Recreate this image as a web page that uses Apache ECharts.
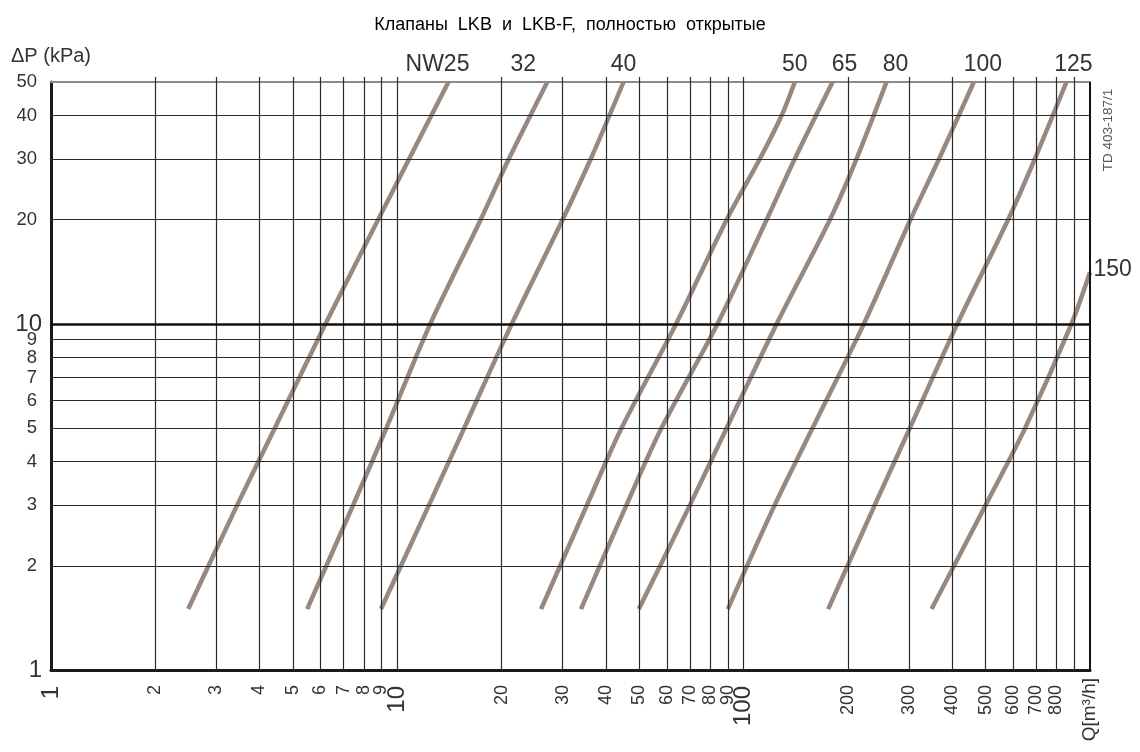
<!DOCTYPE html>
<html><head><meta charset="utf-8">
<script src="https://cdn.jsdelivr.net/npm/echarts@6/dist/echarts.min.js"></script>
<style>html,body{margin:0;padding:0;background:#fff}#c{width:1140px;height:752px}</style>
</head><body><div id="c"></div>
<script>
// ---- data (Q [m3/h], dP [kPa]) ----
const seriesNames = ['NW25','32','40','50','65','80','100','125','150'];
const nw25  = [[2.49,1.5],[3.45,3],[4.43,5],[6.2,10],[8.8,20],[14.05,50]];
const nw32  = [[5.49,1.5],[7.46,3],[9.3,5],[12.45,10],[17.4,20],[21.0,30],[27.1,50]];
const nw40  = [[8.97,1.5],[12.35,3],[15.6,5],[21.4,10],[30,20],[36.2,30],[45.0,50]];
const nw50  = [[26.0,1.5],[35.3,3],[44.4,5],[63.8,10],[89.3,20],[111.4,30],[128.7,40],[140.5,50]];
const nw65  = [[33.9,1.5],[45.9,3],[57.9,5],[84,10],[116.5,20],[140.5,30],[180.6,50]];
const nw80  = [[49.8,1.5],[70,3],[89.3,5],[124.5,10],[177.4,20],[211.8,30],[258.5,50]];
const nw100 = [[90,1.5],[123,3],[158.1,5],[222.3,10],[303,20],[366.7,30],[462,50]];
const nw125 = [[175.4,1.5],[239.2,3],[301.9,5],[414,10],[580,20],[693,30],[855,50]];
const nw150 = [[348.7,1.5],[500,3],[649.7,5],[884,10],[1000,14.1]];
const seriesValues = [nw25,nw32,nw40,nw50,nw65,nw80,nw100,nw125,nw150];

const xLabelValues = [1,2,3,4,5,6,7,8,9,10,20,30,40,50,60,70,80,90,100,200,300,400,500,600,700,800,1000];
const xBigLabels = [1,10,100];
const xGridValues = [2,3,4,5,6,7,8,9,10,20,30,40,50,60,70,80,90,100,200,300,400,500,600,700,800,900];
const yLabelValues = [1,2,3,4,5,6,7,8,9,10,20,30,40,50];
const yBigLabels = [1,10];
const yGridValues = [2,3,4,5,6,7,8,9,20,30,40];
const yMajorGrid = 10;
const titleText = 'Клапаны  LKB  и  LKB-F,  полностью  открытые';
const yName = 'ΔP (kPa)';
const xName = 'Q[m³/h]';
const docCode = 'TD 403-187/1';

// ---- styling ----
const FONT = 'Liberation Sans';
const curveColor = '#978980';
const gridColor = '#2b2b2b';
const labelOffsets = [[-11,0],[-24,0],[0,0],[0,0],[12,0],[9,0],[9,0],[7,0]];

const chart = echarts.init(document.getElementById('c'));

const curveSeries = seriesValues.map((vals, si) => {
  const last = vals.length - 1;
  const isLastSeries = si === seriesValues.length - 1;
  const lbl = isLastSeries ? {
    show: true, position: 'right', distance: 3, offset: [0, -3],
    formatter: seriesNames[si], fontFamily: FONT, fontSize: 23, color: '#333'
  } : {
    show: true, position: 'top', distance: 5, offset: labelOffsets[si],
    formatter: seriesNames[si], fontFamily: FONT, fontSize: 23, color: '#333'
  };
  return {
    name: seriesNames[si],
    type: 'line',
    xAxisIndex: 0, yAxisIndex: 0,
    smooth: 0.3,
    symbol: 'none',
    showSymbol: true,
    clip: false,
    silent: true,
    lineStyle: {color: curveColor, width: 4.5, cap: 'butt'},
    itemStyle: {color: curveColor},
    data: vals.map((p, i) => i === last ? {
      value: p, symbol: 'circle', symbolSize: 1, label: lbl
    } : p)
  };
});

const gridSeries = {
  type: 'line', data: [], silent: true,
  markLine: {
    silent: true, symbol: 'none', animation: false,
    label: {show: false},
    lineStyle: {color: gridColor, width: 1.2, type: 'solid'},
    data: [
      ...xGridValues.map(v => ({xAxis: v})),
      ...yGridValues.map(v => ({yAxis: v})),
      {yAxis: yMajorGrid, lineStyle: {color: '#111', width: 2.6, type: 'solid'}},
      {xAxis: 1000, lineStyle: {color: '#111', width: 2, type: 'solid'}}
    ]
  }
};

chart.setOption({
  animation: false,
  backgroundColor: '#fff',
  title: {
    text: titleText, left: 'center', top: 11,
    textStyle: {fontFamily: FONT, fontSize: 18, fontWeight: 'normal', color: '#000'}
  },
  grid: {left: 51, right: 50, top: 82, bottom: 82},
  xAxis: [{
    type: 'log', logBase: 10, min: 1, max: 1000, position: 'bottom',
    axisLine: {show: true, lineStyle: {color: '#1a1a1a', width: 3}},
    axisTick: {show: false},
    splitLine: {show: false},
    axisLabel: {
      customValues: xLabelValues,
      rotate: 90, margin: 8,
      fontFamily: FONT, color: '#333', fontSize: 18,
      formatter: v => {
        if (v >= 999) return '{q|' + xName + '}';
        if (xBigLabels.indexOf(v) >= 0) return '{b|' + v + '}';
        return '{n|' + v + '}';
      },
      rich: {
        n: {fontFamily: FONT, fontSize: 18, color: '#333', padding: [0, 7, 0, 0]},
        b: {fontFamily: FONT, fontSize: 24, color: '#333', padding: [0, 8, 0, 0]},
        q: {fontFamily: FONT, fontSize: 19, color: '#333'}
      }
    }
  }, {
    type: 'log', logBase: 10, min: 1, max: 1000, position: 'top',
    axisLine: {show: true, lineStyle: {color: '#8a8a8a', width: 2}},
    axisTick: {show: true, customValues: xGridValues, length: 5, lineStyle: {color: gridColor, width: 1.2}},
    axisLabel: {show: false},
    splitLine: {show: false}
  }],
  yAxis: [{
    type: 'log', logBase: 10, min: 1, max: 50,
    name: yName, nameLocation: 'end', nameGap: 16,
    nameTextStyle: {fontFamily: FONT, fontSize: 20, color: '#333', align: 'center'},
    axisLine: {show: true, lineStyle: {color: '#1a1a1a', width: 3}},
    axisTick: {show: false},
    splitLine: {show: false},
    axisLabel: {
      customValues: yLabelValues,
      margin: 9,
      fontFamily: FONT, color: '#333', fontSize: 18,
      formatter: v => yBigLabels.indexOf(v) >= 0 ? '{b|' + v + '}' : '{n|' + v + '}',
      rich: {
        n: {fontFamily: FONT, fontSize: 18.5, color: '#333', padding: [0, 5, 0, 0]},
        b: {fontFamily: FONT, fontSize: 24, color: '#333'}
      }
    }
  }],
  graphic: [{
    type: 'text', x: 1108, y: 130, rotation: Math.PI / 2,
    style: {text: docCode, fontFamily: FONT, fontSize: 13.5, fill: '#555', align: 'center', verticalAlign: 'middle'}
  }],
  series: [gridSeries, ...curveSeries]
});
</script></body></html>
